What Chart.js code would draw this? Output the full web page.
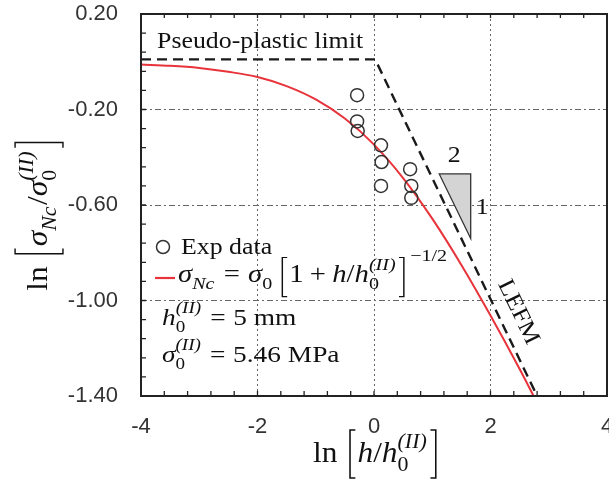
<!DOCTYPE html>
<html>
<head>
<meta charset="utf-8">
<script src="https://cdn.jsdelivr.net/npm/chart.js@4.4.0/dist/chart.umd.min.js"></script>
<style>
  body { margin: 0; background: #fff; }
</style>
</head>
<body>
<canvas id="chart" width="609" height="483"></canvas>
<script>
var expX = [-0.29, -0.29, -0.28, 0.12, 0.13, 0.12, 0.62, 0.64, 0.64];
var expY = [-0.14, -0.25, -0.29, -0.35, -0.42, -0.52, -0.45, -0.52, -0.57];
// size effect law curve
var fitX = [-4, -3.5, -3, -2.5, -2, -1.5, -1, -0.5, 0, 0.5, 1, 1.5, 2, 2.5, 2.74];
var fitY = [-0.012, -0.017, -0.026, -0.042, -0.064, -0.102, -0.158, -0.238, -0.347, -0.487, -0.657, -0.851, -1.063, -1.287, -1.40];
// pseudo-plastic limit + LEFM asymptote
var limX = [-4, 0.02, 2.8];
var limY = [0.01, 0.01, -1.40];
// slope triangle
var triX = [1.12, 1.66, 1.66];
var triY = [-0.47, -0.47, -0.74];
var xTicks = [-4, -2, 0, 2, 4];
var yTicks = [0.2, -0.2, -0.6, -1.0, -1.4];

function pts(xs, ys) {
  return xs.map(function (x, i) { return { x: x, y: ys[i] }; });
}

var SERIF = "Liberation Serif";
var SX = 1.1;
function font(size, it) { return (it ? "italic " : "") + size + "px '" + SERIF + "'"; }

// items: string = upright, {i:..} = italic, {sub,sup} = scripts, {br} = tall bracket, {sp} = space in em
function walk(ctx, items, size, draw) {
  var x = 0;
  items.forEach(function (it) {
    if (typeof it === "string" || it.i !== undefined) {
      var t = typeof it === "string" ? it : it.i;
      ctx.font = font(size, typeof it !== "string");
      if (draw) ctx.fillText(t, x, 0);
      x += ctx.measureText(t).width;
    } else if (it.sp !== undefined) {
      x += it.sp * size;
    } else if (it.br) {
      var w = size * 0.34, top = -size * (it.top || 1.0), bot = size * (it.bot || 0.6);
      if (draw) {
        var a = it.br === "[" ? x + w * 0.8 : x + w * 0.2;
        var b = it.br === "[" ? x + w * 0.3 : x + w * 0.7;
        ctx.beginPath();
        ctx.moveTo(a, top); ctx.lineTo(b, top); ctx.lineTo(b, bot); ctx.lineTo(a, bot);
        ctx.lineWidth = size * 0.05;
        ctx.stroke();
      }
      x += w;
    } else {
      var s = size * 0.7, w1 = 0, w2 = 0;
      if (it.sub) {
        ctx.font = font(s, it.subI);
        w1 = ctx.measureText(it.sub).width;
        if (draw) ctx.fillText(it.sub, x, size * 0.3);
      }
      if (it.sup) {
        ctx.font = font(s, !it.supUp);
        w2 = ctx.measureText(it.sup).width;
        if (draw) ctx.fillText(it.sup, x, -size * (it.hi || 0.5));
      }
      x += Math.max(w1, w2) + size * 0.05;
    }
  });
  return x;
}

function drawMath(ctx, items, x, y, size, opts) {
  opts = opts || {};
  ctx.save();
  ctx.translate(x, y);
  if (opts.rot) ctx.rotate(opts.rot);
  ctx.scale(opts.sx || SX, 1);
  ctx.fillStyle = "#111";
  ctx.strokeStyle = "#111";
  ctx.textAlign = "left";
  ctx.textBaseline = "alphabetic";
  var w = walk(ctx, items, size, false);
  if (opts.center) ctx.translate(-w / 2, 0);
  walk(ctx, items, size, true);
  ctx.restore();
}

var h0 = [{ i: "h" }, { sub: "0", sup: "(II)" }];
var s0 = [{ i: "σ" }, { sub: "0", sup: "(II)" }];
var EQ = [{ sp: 0.28 }, "=", { sp: 0.28 }];

var decor = {
  id: "decor",
  beforeDatasetsDraw: function (chart) {
    var ctx = chart.ctx, xs = chart.scales.x, ys = chart.scales.y;
    // slope triangle
    ctx.save();
    ctx.beginPath();
    triX.forEach(function (v, i) {
      var px = xs.getPixelForValue(v), py = ys.getPixelForValue(triY[i]);
      if (i === 0) ctx.moveTo(px, py); else ctx.lineTo(px, py);
    });
    ctx.closePath();
    ctx.fillStyle = "#d4d4d4";
    ctx.fill();
    ctx.strokeStyle = "#333";
    ctx.lineWidth = 1.3;
    ctx.stroke();
    ctx.restore();
  },
  afterDatasetsDraw: function (chart) {
    var ctx = chart.ctx, a = chart.chartArea, xs = chart.scales.x, ys = chart.scales.y;
    var i, v, p;
    ctx.save();
    // frame
    ctx.strokeStyle = "#222";
    ctx.lineWidth = 2;
    ctx.strokeRect(a.left, a.top, a.right - a.left, a.bottom - a.top);
    // inward minor ticks
    ctx.lineWidth = 1.3;
    ctx.beginPath();
    for (i = 0; i <= 20; i++) {
      v = -1.4 + i * 0.08;
      p = ys.getPixelForValue(v);
      ctx.moveTo(a.left, p); ctx.lineTo(a.left + 5, p);
      v = -4 + i * 0.4;
      p = xs.getPixelForValue(v);
      ctx.moveTo(p, a.bottom); ctx.lineTo(p, a.bottom - 5);
      ctx.moveTo(p, a.top); ctx.lineTo(p, a.top + 4);
    }
    ctx.stroke();
    ctx.restore();

    var S = 23.5;
    drawMath(ctx, ["Pseudo-plastic limit"], a.left + 16, a.top + 34, S);
    // slope labels
    drawMath(ctx, ["2"], xs.getPixelForValue(1.37) - 6, ys.getPixelForValue(-0.47) - 12, S);
    drawMath(ctx, ["1"], xs.getPixelForValue(1.66) + 5, ys.getPixelForValue(-0.605) + 8, S);
    // LEFM label along asymptote
    var ang = Math.atan2(ys.getPixelForValue(-1.4) - ys.getPixelForValue(0.01),
                         xs.getPixelForValue(2.8) - xs.getPixelForValue(0.02));
    drawMath(ctx, ["LEFM"], xs.getPixelForValue(2.38), ys.getPixelForValue(-1.06), S, { rot: ang, center: true });

    // legend
    ctx.save();
    ctx.strokeStyle = "#333";
    ctx.lineWidth = 1.5;
    ctx.beginPath();
    ctx.arc(163, 247, 6.5, 0, Math.PI * 2);
    ctx.stroke();
    ctx.strokeStyle = "#e8333a";
    ctx.lineWidth = 2.2;
    ctx.beginPath();
    ctx.moveTo(155, 278); ctx.lineTo(175, 278);
    ctx.stroke();
    ctx.restore();
    drawMath(ctx, ["Exp data"], 181, 254, S);
    drawMath(ctx, [{ i: "σ" }, { sub: "Nc", subI: true }].concat(EQ, [{ i: "σ" }, { sub: "0" }, { sp: 0.2 },
      { br: "[" }, "1", { sp: 0.22 }, "+", { sp: 0.22 }, { i: "h" }, "/"], h0,
      [{ br: "]" }, { sp: 0.12 }, { sup: "−1/2", supUp: true, hi: 0.85 }]),
      178, 282, 24.5, { sx: 1.17 });
    drawMath(ctx, h0.concat(EQ, ["5 mm"]), 162, 325, 24, { sx: 1.14 });
    drawMath(ctx, s0.concat(EQ, ["5.46 MPa"]), 162, 362, 24, { sx: 1.14 });

    // axis titles
    var T = 28.5;
    drawMath(ctx, ["ln", { sp: 0.3 }, { br: "[", top: 1.12, bot: 0.56 }, { i: "h" }, "/"].concat(h0, [{ br: "]", top: 1.12, bot: 0.56 }]),
      376, 462, T, { center: true });
    drawMath(ctx, ["ln", { sp: 0.3 }, { br: "[", top: 1.12, bot: 0.56 }, { i: "σ" }, { sub: "Nc", subI: true }, "/"].concat(s0, [{ br: "]", top: 1.12, bot: 0.56 }]),
      47, 215, T, { rot: -Math.PI / 2, center: true });
  }
};

new Chart(document.getElementById("chart"), {
  type: "scatter",
  data: {
    datasets: [
      {
        label: "Exp data",
        data: pts(expX, expY),
        pointStyle: "circle",
        pointRadius: 6.5,
        pointBorderWidth: 1.5,
        pointBorderColor: "#333",
        pointBackgroundColor: "rgba(0,0,0,0)",
        showLine: false
      },
      {
        label: "Size effect law",
        data: pts(fitX, fitY),
        showLine: true,
        borderColor: "#e8333a",
        borderWidth: 2,
        pointRadius: 0,
        cubicInterpolationMode: "monotone"
      },
      {
        label: "Limits",
        data: pts(limX, limY),
        showLine: true,
        borderColor: "#1a1a1a",
        borderWidth: 2.4,
        borderDash: [10, 6],
        pointRadius: 0
      }
    ]
  },
  options: {
    responsive: false,
    animation: false,
    layout: { autoPadding: false, padding: { left: 0, right: 2, top: 14, bottom: 0 } },
    plugins: { legend: { display: false }, tooltip: { enabled: false } },
    scales: {
      x: {
        min: -4, max: 4,
        afterBuildTicks: function (s) { s.ticks = xTicks.map(function (v) { return { value: v }; }); },
        afterFit: function (s) { s.height = 87; s.paddingLeft = 0; s.paddingRight = 0; },
        ticks: { padding: 18, color: "#333", font: { family: "Liberation Sans", size: 22 } },
        grid: { color: "#666", lineWidth: 1, drawTicks: false },
        border: { display: false, dash: [2, 3] }
      },
      y: {
        min: -1.4, max: 0.2,
        afterBuildTicks: function (s) { s.ticks = yTicks.map(function (v) { return { value: v }; }); },
        afterFit: function (s) { s.width = 141; s.paddingTop = 0; s.paddingBottom = 0; },
        ticks: {
          padding: 23, color: "#333", font: { family: "Liberation Sans", size: 22 },
          callback: function (v) { return v.toFixed(2); }
        },
        grid: { color: "#666", lineWidth: 1, drawTicks: false },
        border: { display: false, dash: [6, 3, 2, 3] }
      }
    }
  },
  plugins: [decor]
});
</script>
</body>
</html>
